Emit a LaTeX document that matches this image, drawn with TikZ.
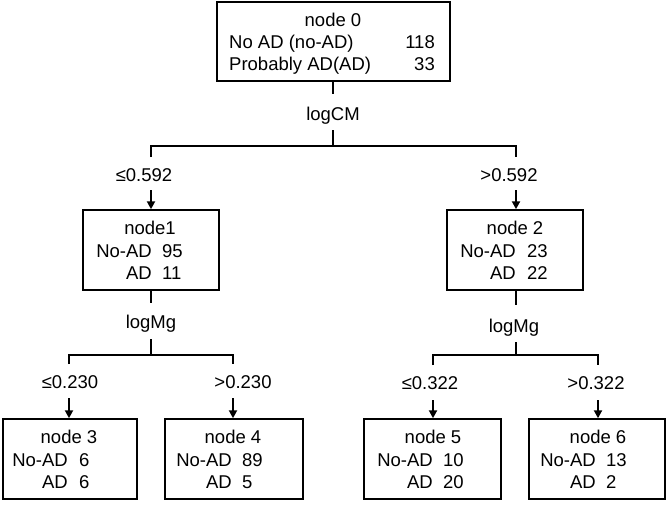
\documentclass[tikz,border=0pt]{standalone}
\usepackage{fontspec}
\setmainfont{Liberation Sans}
\usetikzlibrary{arrows.meta}
\begin{document}
\begin{tikzpicture}[x=1pt,y=-1pt,
  box/.style={draw, line width=1.5pt, inner sep=0pt, minimum width=#1, minimum height=80pt},
  txt/.style={inner sep=0pt, anchor=base, font=\fontsize{18.5}{22}\selectfont},
  conn/.style={line width=2pt},
  arr/.style={line width=2pt, -{Triangle[width=8pt,length=8pt]}}
]
\useasboundingbox (0,0) rectangle (666,504);

% boxes
\node[box=233pt, minimum height=79pt] (n0) at (333.5,41.5) {};
\node[box=136pt] (n1) at (151,250) {};
\node[box=136pt] (n2) at (515,250) {};
\node[box=134pt] (n3) at (70,459) {};
\node[box=138pt] (n4) at (234,459) {};
\node[box=137pt] (n5) at (432.5,459) {};
\node[box=136pt] (n6) at (597,459) {};

% root text
\node[txt] (n0t) at (333,26) {node 0};
\node[txt, anchor=base west] (n0a) at (229,48) {No AD (no-AD)};
\node[txt, anchor=base east] (n0an) at (435,48) {118};
\node[txt, anchor=base west] (n0b) at (229,70) {Probably AD(AD)};
\node[txt, anchor=base east] (n0bn) at (435,70) {33};

% node1 text
\node[txt] (n1t) at (150,234) {node1};
\node[txt, anchor=base east] (n1a) at (152,257) {No-AD};
\node[txt, anchor=base west] (n1an) at (162,257) {95};
\node[txt, anchor=base east] (n1b) at (152,279) {AD};
\node[txt, anchor=base west] (n1bn) at (162,279) {11};

% node2 text
\node[txt] (n2t) at (515,234) {node 2};
\node[txt, anchor=base east] (n2a) at (516,257) {No-AD};
\node[txt, anchor=base west] (n2an) at (527,257) {23};
\node[txt, anchor=base east] (n2b) at (516,279) {AD};
\node[txt, anchor=base west] (n2bn) at (527,279) {22};

% node3 text
\node[txt] (n3t) at (69,443) {node 3};
\node[txt, anchor=base east] (n3a) at (68,466) {No-AD};
\node[txt, anchor=base west] (n3an) at (79,466) {6};
\node[txt, anchor=base east] (n3b) at (68,488) {AD};
\node[txt, anchor=base west] (n3bn) at (79,488) {6};

% node4 text
\node[txt] (n4t) at (233,443) {node 4};
\node[txt, anchor=base east] (n4a) at (232,466) {No-AD};
\node[txt, anchor=base west] (n4an) at (242,466) {89};
\node[txt, anchor=base east] (n4b) at (232,488) {AD};
\node[txt, anchor=base west] (n4bn) at (242,488) {5};

% node5 text
\node[txt] (n5t) at (433,443) {node 5};
\node[txt, anchor=base east] (n5a) at (433,466) {No-AD};
\node[txt, anchor=base west] (n5an) at (443,466) {10};
\node[txt, anchor=base east] (n5b) at (433,488) {AD};
\node[txt, anchor=base west] (n5bn) at (443,488) {20};

% node6 text
\node[txt] (n6t) at (598,443) {node 6};
\node[txt, anchor=base east] (n6a) at (596,466) {No-AD};
\node[txt, anchor=base west] (n6an) at (606,466) {13};
\node[txt, anchor=base east] (n6b) at (596,488) {AD};
\node[txt, anchor=base west] (n6bn) at (606,488) {2};

% split labels
\node[txt] (s0) at (333,120) {logCM};
\node[txt] (s1) at (151,328) {logMg};
\node[txt] (s2) at (514,332) {logMg};

% threshold labels
\node[txt] (t1) at (144,181) {≤0.592};
\node[txt] (t2) at (509,181) {>0.592};
\node[txt] (t3) at (70,388) {≤0.230};
\node[txt] (t4) at (243,388) {>0.230};
\node[txt] (t5) at (430,389) {≤0.322};
\node[txt] (t6) at (596,389) {>0.322};

% coordinates
\coordinate (c0a) at (333,94);
\coordinate (c0b) at (333,130);
\coordinate (j0) at (333,146);
\coordinate (d1) at (151,157);
\coordinate (d2) at (516,157);
\coordinate (a1) at (151,190);
\coordinate (a2) at (516,190);

\coordinate (c1a) at (151,303);
\coordinate (c1b) at (151,339);
\coordinate (j1) at (151,355);
\coordinate (d3) at (69,364);
\coordinate (d4) at (233,364);
\coordinate (a3) at (69,398);
\coordinate (a4) at (233,398);

\coordinate (c2a) at (516,305);
\coordinate (c2b) at (516,342);
\coordinate (j2) at (516,355);
\coordinate (d5) at (433,365);
\coordinate (d6) at (598,365);
\coordinate (a5) at (433,400);
\coordinate (a6) at (598,400);

% connectors
\draw[conn] (c0a |- n0.south) -- (c0a);
\draw[conn] (c0b) -- (j0);
\draw[conn] (d1) -- (d1 |- j0) -- (d2 |- j0) -- (d2);
\draw[arr] (a1) -- (a1 |- n1.north);
\draw[arr] (a2) -- (a2 |- n2.north);

\draw[conn] (n1.south) -- (c1a);
\draw[conn] (c1b) -- (j1);
\draw[conn] (d3) -- (d3 |- j1) -- (d4 |- j1) -- (d4);
\draw[arr] (a3) -- (a3 |- n3.north);
\draw[arr] (a4) -- (a4 |- n4.north);

\draw[conn] (c2a |- n2.south) -- (c2a);
\draw[conn] (c2b) -- (j2);
\draw[conn] (d5) -- (d5 |- j2) -- (d6 |- j2) -- (d6);
\draw[arr] (a5) -- (a5 |- n5.north);
\draw[arr] (a6) -- (a6 |- n6.north);
\end{tikzpicture}
\end{document}
